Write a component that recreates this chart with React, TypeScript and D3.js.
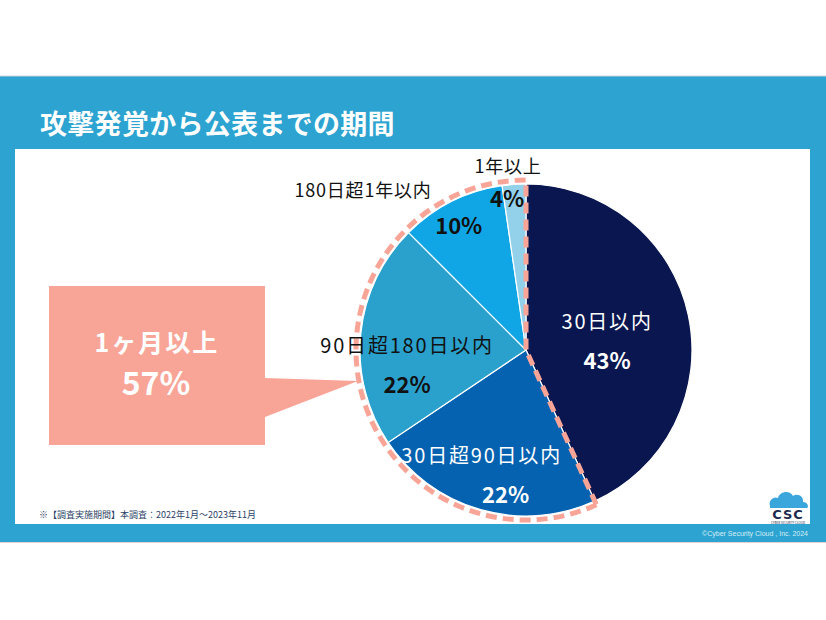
import { useRef, useEffect } from "react";
import * as d3 from "d3";

const categories = ["30日以内", "30日超90日以内", "90日超180日以内", "180日超1年以内", "1年以上"];
const shares = [43.2, 22.4, 21.9, 10.2, 2.3];
const pctLabels = ["43%", "22%", "22%", "10%", "4%"];
const sliceColors = ["#0a1650", "#0562b0", "#2aa0cc", "#10a6e6", "#93d1ea"];
const calloutTitle = "1ヶ月以上";
const calloutValue = "57%";

const FONT = "'Noto Sans CJK JP', 'Noto Sans', sans-serif";
const BAND = "#2ca3d0";
const SALMON = "#f8a598";

export default function App() {
  const ref = useRef<SVGSVGElement>(null);
  useEffect(() => {
    if (!ref.current) return;
    const svg = d3.select(ref.current);
    svg.selectAll("*").remove();
    svg.attr("width", 826).attr("height", 620).style("font-family", FONT);

    svg.append("rect").attr("width", 826).attr("height", 620).attr("fill", "#fff");
    svg.append("rect").attr("x", 0).attr("y", 76).attr("width", 826).attr("height", 466).attr("fill", BAND);
    svg.append("line").attr("x1", 0).attr("x2", 826).attr("y1", 76).attr("y2", 76).attr("stroke", "#c9d3d8");
    svg.append("line").attr("x1", 0).attr("x2", 826).attr("y1", 542.5).attr("y2", 542.5).attr("stroke", "#e6cfcc");
    svg.append("rect").attr("x", 15).attr("y", 149).attr("width", 795).attr("height", 375).attr("fill", "#fff");

    svg.append("text").attr("x", 40).attr("y", 134).attr("fill", "#fff").attr("font-size", 27)
      .attr("font-weight", 700).attr("letter-spacing", 0.3).text("攻撃発覚から公表までの期間");

    // pie
    const cx = 526, cy = 350, r = 166;
    const g = svg.append("g").attr("transform", `translate(${cx},${cy})`);
    const pie = d3.pie<number>().sort(null).value(d => d)(shares);
    const arc = d3.arc<d3.PieArcDatum<number>>().innerRadius(0).outerRadius(r);
    g.selectAll("path.slice").data(pie).join("path").attr("class", "slice")
      .attr("d", arc).attr("fill", (_, i) => sliceColors[i]).attr("stroke", "#fff").attr("stroke-width", 1.2);

    // dashed outline of the "over 1 month" group
    const groupArc = d3.arc<any>().innerRadius(0).outerRadius(170);
    g.append("path")
      .attr("d", groupArc({ startAngle: pie[0].endAngle, endAngle: Math.PI * 2 }))
      .attr("fill", "none").attr("stroke", SALMON).attr("stroke-width", 5).attr("stroke-dasharray", "11 6");

    const polar = (a: number, rad: number) => [Math.sin(a) * rad, -Math.cos(a) * rad];
    const mid = (d: d3.PieArcDatum<number>) => (d.startAngle + d.endAngle) / 2;

    // label placement per slice
    const inside = [
      { f: 0.5, ndx: 0, ny: -3, pdx: 0, py: 37, col: "#fff" },
      { f: 0.78, ndx: -9, ny: -12, pdx: 15, py: 28, col: "#fff" },
      { f: 0.72, ndx: 0, ny: 15, pdx: 0, py: 55, col: "#111" },
      { f: 0.85, ndx: -4, ny: 0, pdx: -4, py: 10, col: "#111" },
      { f: 0.91, ndx: 0, ny: 0, pdx: -8, py: 8, col: "#111" },
    ];
    pie.forEach((d, i) => {
      const [x, y] = polar(mid(d), r * inside[i].f);
      const s = inside[i];
      if (i < 3) {
        g.append("text").attr("x", x + s.ndx).attr("y", y + s.ny).attr("text-anchor", "middle")
          .attr("fill", s.col).attr("font-size", 20).attr("letter-spacing", 1.8).text(categories[i]);
      }
      g.append("text").attr("x", x + s.pdx).attr("y", y + s.py).attr("text-anchor", "middle")
        .attr("fill", s.col).attr("font-size", 22).attr("font-weight", 700).text(pctLabels[i]);
    });
    // outside labels for the small slices
    const outside = [
      { i: 3, dx: -163, dy: -153 },
      { i: 4, dx: -18, dy: -177 },
    ];
    outside.forEach(o => {
      g.append("text").attr("x", o.dx).attr("y", o.dy).attr("text-anchor", "middle")
        .attr("fill", "#111").attr("font-size", 18).attr("letter-spacing", 0.8).text(categories[o.i]);
    });

    // callout
    const c = d3.path();
    c.moveTo(49, 286); c.lineTo(265, 286); c.lineTo(265, 378); c.lineTo(358, 381);
    c.lineTo(265, 417); c.lineTo(265, 445); c.lineTo(49, 445); c.closePath();
    svg.append("path").attr("d", c.toString()).attr("fill", SALMON);
    svg.append("text").attr("x", 157).attr("y", 352).attr("text-anchor", "middle").attr("fill", "#fff")
      .attr("font-size", 25).attr("font-weight", 700).attr("letter-spacing", 2).text(calloutTitle);
    svg.append("text").attr("x", 156).attr("y", 395).attr("text-anchor", "middle").attr("fill", "#fff")
      .attr("font-size", 32).attr("font-weight", 700).text(calloutValue);

    // footer
    svg.append("text").attr("x", 39).attr("y", 518).attr("fill", "#2b3f66").attr("font-size", 9)
      .text("※【調査実施期間】本調査：2022年1月～2023年11月");
    svg.append("text").attr("x", 808).attr("y", 536).attr("text-anchor", "end").attr("fill", "#d8eef7")
      .attr("font-size", 7).attr("font-family", "'Liberation Sans', Arial, sans-serif")
      .text("©Cyber Security Cloud , Inc. 2024");

    // logo
    const logo = svg.append("g").attr("transform", "translate(766,490)");
    logo.append("path")
      .attr("d", "M4,16 C2,10 8,6 12,8 C14,1 24,0 27,6 C31,3 38,6 37,12 C42,12 43,17 41,18 L4,18 Z")
      .attr("fill", "#3aa6dc");
    logo.append("text").attr("x", 22).attr("y", 29).attr("text-anchor", "middle").attr("fill", "#1b2a4e")
      .attr("font-size", 13).attr("font-weight", 700).attr("font-family", "'DejaVu Sans', sans-serif")
      .attr("letter-spacing", 1).text("CSC");
    logo.append("text").attr("x", 22).attr("y", 34).attr("text-anchor", "middle").attr("fill", "#1b2a4e")
      .attr("font-size", 3).text("CYBER SECURITY CLOUD");
  }, []);

  return (
    <div style={{ position: "absolute", left: 0, top: 0 }}>
      <svg ref={ref} style={{ display: "block" }} />
    </div>
  );
}
